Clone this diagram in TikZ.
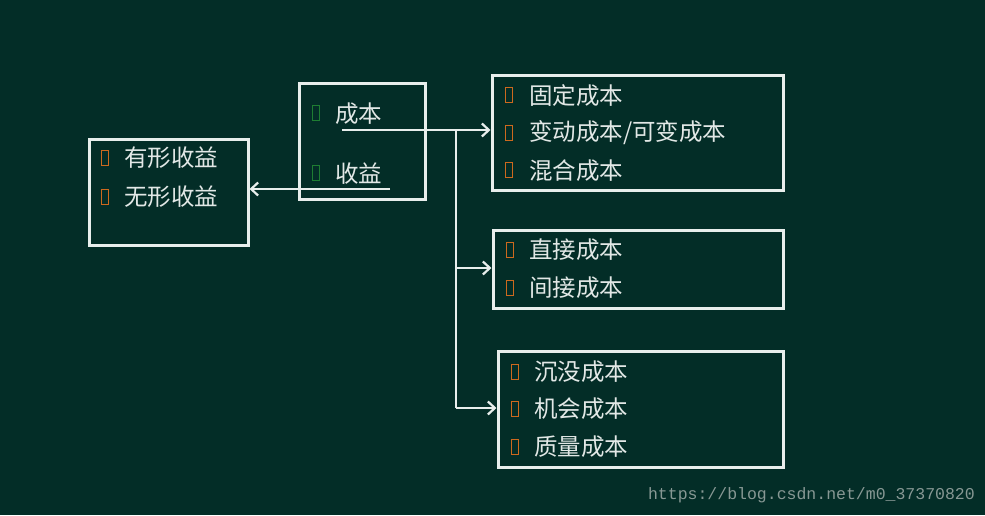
\documentclass[tikz,border=0pt]{standalone}
\usepackage{fontspec}
\newfontfamily\cjk{Noto Sans CJK SC}
\newfontfamily\wmfont{Liberation Mono}
\usetikzlibrary{arrows.meta}
\definecolor{bg}{RGB}{3,45,39}
\definecolor{fg}{RGB}{232,238,236}
\definecolor{txt}{RGB}{226,232,230}
\definecolor{bulo}{RGB}{205,105,30}
\definecolor{bulg}{RGB}{30,125,50}
\definecolor{wm}{RGB}{135,152,148}
\tikzset{
  box/.style={draw=fg, line width=3pt, rectangle, inner sep=0pt},
  conn/.style={draw=fg, line width=2.2pt, -{Straight Barb[length=7pt,width=13pt,line width=2.2pt]}},
  plain/.style={draw=fg, line width=2.2pt},
  lbl/.style={anchor=west, text=txt, font=\cjk\fontsize{23.5}{26}\selectfont, inner sep=0pt},
  bul/.style={draw=bulo, line width=1.5pt, minimum width=7pt, minimum height=15pt, inner sep=0pt, rectangle},
  bulgr/.style={bul, draw=bulg},
}
\begin{document}
\begin{tikzpicture}[x=1pt,y=-1pt]
\fill[bg] (0,0) rectangle (985,515);
\useasboundingbox (0,0) rectangle (985,515);
% boxes
\node[box, minimum width=159pt, minimum height=106pt] (lb) at (168.5,192) {};
\node[box, minimum width=126pt, minimum height=116pt] (mb) at (362,141) {};
\node[box, minimum width=291pt, minimum height=115pt] (tr) at (637.5,132.5) {};
\node[box, minimum width=290pt, minimum height=78pt] (mr) at (638,269) {};
\node[box, minimum width=285pt, minimum height=116pt] (br) at (640.5,409) {};
% left box
\node[bul] (b1) at (105,158) {};
\node[lbl] (t1) at (124,158) {有形收益};
\node[bul] (b2) at (105,197) {};
\node[lbl] (t2) at (124,197) {无形收益};
% middle box
\node[bulgr] (g1) at (316,113) {};
\node[lbl] (m1) at (335,114) {成本};
\node[bulgr] (g2) at (316,173) {};
\node[lbl] (m2) at (335,174) {收益};
% top right
\node[bul] (b3) at (509,95) {};
\node[lbl] (t3) at (529,96) {固定成本};
\node[bul] (b4) at (509,133) {};
\node[lbl] (t4) at (529,133) {变动成本/可变成本};
\node[bul] (b5) at (509,170) {};
\node[lbl] (t5) at (529,171) {混合成本};
% middle right
\node[bul] (b6) at (510,250) {};
\node[lbl] (t6) at (529,250) {直接成本};
\node[bul] (b7) at (510,288) {};
\node[lbl] (t7) at (529,288) {间接成本};
% bottom right
\node[bul] (b8) at (515,372) {};
\node[lbl] (t8) at (534,372) {沉没成本};
\node[bul] (b9) at (515,409) {};
\node[lbl] (t9) at (534,409) {机会成本};
\node[bul] (b10) at (515,447) {};
\node[lbl] (t10) at (534,447) {质量成本};
% connectors
\coordinate (cs) at (342,130);
\coordinate (jn) at (456,130);
\coordinate (j2) at (456,268);
\coordinate (j3) at (456,408);
\coordinate (ss) at (390,189);
\draw[conn] (cs) -- (tr.west |- cs);
\draw[plain] (jn) -- (j3);
\draw[conn] (j2) -- (mr.west |- j2);
\draw[conn] (j3) -- (br.west |- j3);
\draw[conn] (ss) -- (lb.east |- ss);
% watermark
\node[anchor=east, text=wm, font=\wmfont\fontsize{16.5}{18}\selectfont, inner sep=0pt] (wmk) at (975,495) {https://blog.csdn.net/m0\_37370820};
\end{tikzpicture}
\end{document}
